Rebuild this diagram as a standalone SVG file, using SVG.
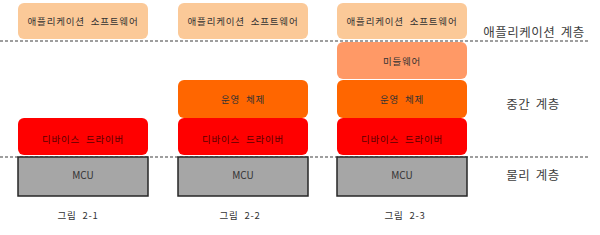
<svg xmlns="http://www.w3.org/2000/svg" width="600" height="235" viewBox="0 0 600 235">
<style>
.t{font-family:"Noto Sans CJK KR","Liberation Sans",sans-serif;font-size:9.5px;text-anchor:middle;dominant-baseline:central;fill:#333;letter-spacing:0.8px;word-spacing:3px}
.m{letter-spacing:0;font-size:10px}
.lbl{font-family:"Noto Sans CJK KR","Liberation Sans",sans-serif;font-size:12.5px;text-anchor:middle;dominant-baseline:central;fill:#404040;letter-spacing:0.5px;word-spacing:2px}
.app{fill:#FBC998}
.mid{fill:#FF9966}
.os{fill:#FF6600}
.drv{fill:#FF0000}
.mcu{fill:#A6A6A6;stroke:#262626;stroke-width:1.5}
.dash{stroke:#7f7f7f;stroke-width:1.3;stroke-dasharray:3 2;fill:none}
</style>
<g id="connectors">
<line class="dash" x1="0" y1="41" x2="588" y2="41"/>
<line class="dash" x1="0" y1="157" x2="588" y2="157"/>
</g>
<g id="col1">
<g id="app1"><rect class="app" x="18" y="3" width="130" height="36" rx="6"/><text class="t" x="83" y="21">애플리케이션 소프트웨어</text></g>
<g id="drv1"><rect class="drv" x="18" y="118" width="130" height="37" rx="6"/><text class="t" x="83" y="139" style="fill:#5a0000">디바이스 드라이버</text></g>
<g id="mcu1"><rect class="mcu" x="18" y="157" width="130" height="39"/><text class="t m" x="83" y="174">MCU</text></g>
<g id="cap1"><text class="t" x="78" y="215">그림 2-1</text></g>
</g>
<g id="col2">
<g id="app2"><rect class="app" x="178" y="3" width="130" height="36" rx="6"/><text class="t" x="243" y="21">애플리케이션 소프트웨어</text></g>
<g id="os2"><rect class="os" x="178" y="80" width="130" height="38" rx="6"/><text class="t" x="243" y="99">운영 체제</text></g>
<g id="drv2"><rect class="drv" x="178" y="118" width="130" height="37" rx="6"/><text class="t" x="243" y="139" style="fill:#5a0000">디바이스 드라이버</text></g>
<g id="mcu2"><rect class="mcu" x="178" y="157" width="130" height="39"/><text class="t m" x="243" y="174">MCU</text></g>
<g id="cap2"><text class="t" x="240" y="215">그림 2-2</text></g>
</g>
<g id="col3">
<g id="app3"><rect class="app" x="337" y="3" width="130" height="36" rx="6"/><text class="t" x="402" y="21">애플리케이션 소프트웨어</text></g>
<g id="mid3"><rect class="mid" x="337" y="42" width="130" height="37" rx="6"/><text class="t" x="402" y="61">미들웨어</text></g>
<g id="os3"><rect class="os" x="337" y="80" width="130" height="38" rx="6"/><text class="t" x="402" y="99">운영 체제</text></g>
<g id="drv3"><rect class="drv" x="337" y="118" width="130" height="37" rx="6"/><text class="t" x="402" y="139" style="fill:#5a0000">디바이스 드라이버</text></g>
<g id="mcu3"><rect class="mcu" x="337" y="157" width="130" height="39"/><text class="t m" x="402" y="174">MCU</text></g>
<g id="cap3"><text class="t" x="405" y="215">그림 2-3</text></g>
</g>
<g id="layers">
<text class="lbl" x="534" y="31">애플리케이션 계층</text>
<text class="lbl" x="533" y="103">중간 계층</text>
<text class="lbl" x="533" y="174">물리 계층</text>
</g>
</svg>
